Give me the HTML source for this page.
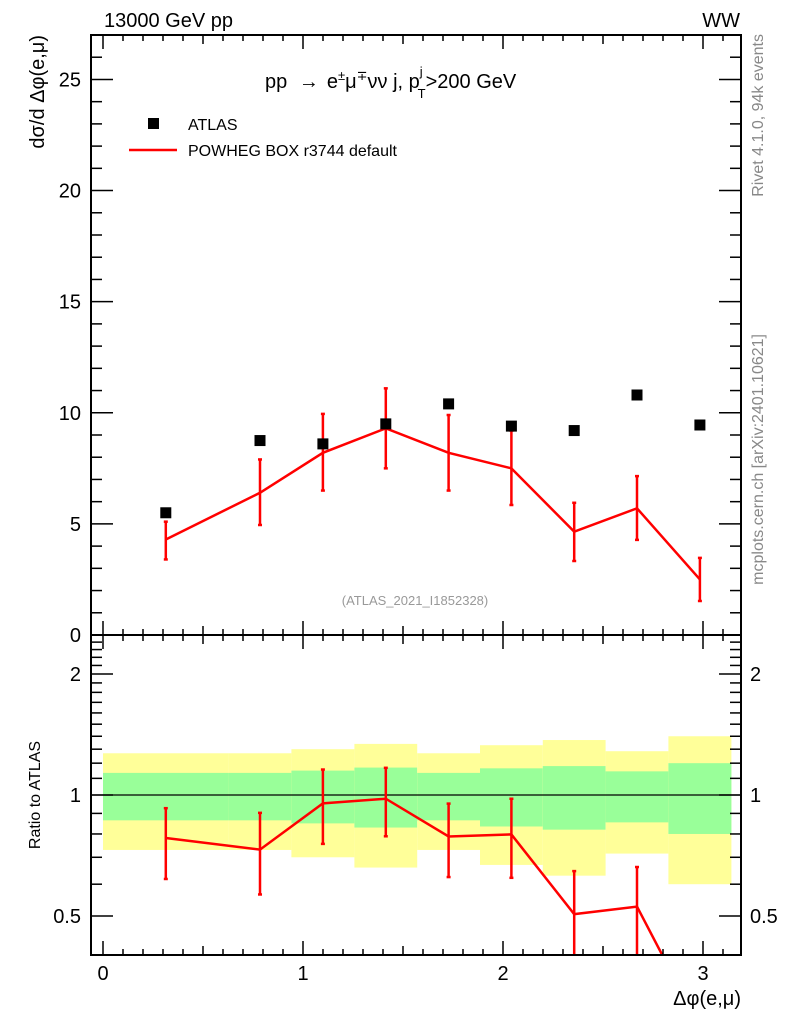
<!DOCTYPE html>
<html><head><meta charset="utf-8">
<style>
html,body{margin:0;padding:0;background:#fff;overflow:hidden;width:786px;height:1024px;position:relative;}
svg{display:block;position:absolute;left:0;top:0;font-family:"Liberation Sans","DejaVu Sans",sans-serif;}
</style></head>
<body>
<svg id="chart" width="786" height="1024" viewBox="0 0 786 1024" xmlns="http://www.w3.org/2000/svg">
<defs>
<clipPath id="clipMain"><rect x="91" y="35" width="650" height="600"/></clipPath>
<clipPath id="clipRatio"><rect x="91" y="635" width="650" height="320"/></clipPath>
</defs>
<g id="bands" clip-path="url(#clipRatio)"></g>
<g id="marks"></g>
<g id="axes"></g>
<text x="104" y="27" font-size="20">13000 GeV pp</text>
<text x="740" y="27" font-size="20" text-anchor="end">WW</text>
<text x="265" y="88" font-size="20">pp <tspan dx="6">→</tspan><tspan dx="8">e</tspan><tspan font-size="13" dy="-8">±</tspan><tspan dy="8">μ</tspan><tspan font-size="13" dy="-8">∓</tspan><tspan dy="8">νν j, p</tspan><tspan font-size="13" dy="-12">j</tspan><tspan font-size="13" dx="-5" dy="22">T</tspan><tspan dy="-10">&gt;200 GeV</tspan></text>
<rect x="148" y="118" width="11" height="11" fill="#000"/>
<text x="188" y="130" font-size="16">ATLAS</text>
<line x1="129" y1="150" x2="177" y2="150" stroke="#f00" stroke-width="2.5"/>
<text x="188" y="156" font-size="16">POWHEG BOX r3744 default</text>
<text x="415" y="605" font-size="13" fill="#999" text-anchor="middle">(ATLAS_2021_I1852328)</text>
<text transform="translate(44,35) rotate(-90)" font-size="20" text-anchor="end">dσ/d Δφ(e,μ)</text>
<text transform="translate(40,795) rotate(-90)" font-size="16" text-anchor="middle">Ratio to ATLAS</text>
<text x="741" y="1005" font-size="20" text-anchor="end">Δφ(e,μ)</text>
<text transform="translate(763,34) rotate(-90)" font-size="16" fill="#888" text-anchor="end">Rivet 4.1.0,  94k events</text>
<text transform="translate(763,334) rotate(-90)" font-size="16" fill="#888" text-anchor="end">mcplots.cern.ch [arXiv:2401.10621]</text>
</svg>
<script>
const binEdges = [0, 0.628, 0.942, 1.257, 1.571, 1.885, 2.199, 2.513, 2.827, 3.142];
const atlasValues = [5.5, 8.75, 8.6, 9.5, 10.4, 9.4, 9.2, 10.8, 9.45];
const mcValues = [4.3, 6.4, 8.2, 9.3, 8.2, 7.5, 4.65, 5.7, 2.5];
const mcErrUp = [5.1, 7.9, 9.95, 11.1, 9.9, 9.2, 5.95, 7.15, 3.47];
const mcErrDown = [3.4, 4.95, 6.5, 7.5, 6.5, 5.85, 3.33, 4.28, 1.53];
const atlasStatRel = [0.135, 0.135, 0.15, 0.17, 0.135, 0.165, 0.18, 0.145, 0.2];
const atlasTotRel = [0.27, 0.27, 0.30, 0.34, 0.27, 0.33, 0.37, 0.285, 0.4];
const xTicks = [0, 1, 2, 3];
const yTicks = [0, 5, 10, 15, 20, 25];
const ratioTicks = [0.5, 1, 2];

const NS = "http://www.w3.org/2000/svg";
const L = 91, R = 741, T = 35, MB = 635, RB = 955;
const xMin = -0.06, xMax = 3.19, yMax = 27;
const rMin = 0.4, rMax = 2.5;
const X = v => L + (v - xMin) / (xMax - xMin) * (R - L);
const Y = v => MB - v / yMax * (MB - T);
const RY = v => RB - (Math.log(v) - Math.log(rMin)) / (Math.log(rMax) - Math.log(rMin)) * (RB - MB);

function mk(tag, attrs, parent) {
  const e = document.createElementNS(NS, tag);
  for (const k in attrs) e.setAttribute(k, attrs[k]);
  parent.appendChild(e);
  return e;
}
const bands = document.getElementById('bands');
const marks = document.getElementById('marks');
const axes = document.getElementById('axes');
const centers = binEdges.slice(0, -1).map((e, i) => (e + binEdges[i + 1]) / 2);

for (let i = 0; i < atlasValues.length; i++) {
  const x0 = X(binEdges[i]), x1 = X(binEdges[i + 1]);
  const y = mk('rect', {x: x0, y: RY(1 + atlasTotRel[i]), width: x1 - x0, height: RY(1 - atlasTotRel[i]) - RY(1 + atlasTotRel[i]), fill: '#ffff99'}, bands);
  
  
  const g = mk('rect', {x: x0, y: RY(1 + atlasStatRel[i]), width: x1 - x0, height: RY(1 - atlasStatRel[i]) - RY(1 + atlasStatRel[i]), fill: '#99ff99'}, bands);
  
  
}
const one = mk('line', {x1: L, x2: R, y1: RY(1), y2: RY(1), stroke: '#000', 'stroke-width': 1.2}, bands);



const mcLine = mk('polyline', {points: centers.map((c, i) => X(c) + ',' + Y(mcValues[i])).join(' '), fill: 'none', stroke: '#f00', 'stroke-width': 2.5, 'clip-path': 'url(#clipMain)'}, marks);


for (let i = 0; i < mcValues.length; i++) {
  const xc = X(centers[i]);
  const eb = mk('g', {stroke: '#f00', 'stroke-width': 2.5}, marks);
  
  
  mk('line', {x1: xc, x2: xc, y1: Y(mcErrUp[i]), y2: Y(mcErrDown[i])}, eb);
  mk('line', {x1: xc - 2, x2: xc + 2, y1: Y(mcErrUp[i]), y2: Y(mcErrUp[i])}, eb);
  mk('line', {x1: xc - 2, x2: xc + 2, y1: Y(mcErrDown[i]), y2: Y(mcErrDown[i])}, eb);
  const p = mk('rect', {x: xc - 5.5, y: Y(atlasValues[i]) - 5.5, width: 11, height: 11, fill: '#000'}, marks);
  
  
}
const rg = mk('g', {'clip-path': 'url(#clipRatio)'}, marks);


// ratio line, clipped geometrically at the bottom of the panel
const rpts = centers.map((c, i) => [X(c), RY(mcValues[i] / atlasValues[i])]);
const clipped = [];
for (let i = 0; i < rpts.length; i++) {
  const [x, y] = rpts[i];
  if (y <= RB) { clipped.push([x, y]); continue; }
  if (i > 0 && rpts[i - 1][1] <= RB) {
    const [px, py] = rpts[i - 1];
    const t = (RB - py) / (y - py);
    clipped.push([px + t * (x - px), RB]);
  }
  break;
}
const rl = mk('polyline', {points: clipped.map(p => p[0] + ',' + p[1]).join(' '), fill: 'none', stroke: '#f00', 'stroke-width': 2.5}, rg);


for (let i = 0; i < mcValues.length; i++) {
  const xc = X(centers[i]);
  const upV = mcErrUp[i] / atlasValues[i], dnV = mcErrDown[i] / atlasValues[i];
  const up = RY(Math.max(upV, rMin)), dn = RY(Math.max(dnV, rMin));
  const eb = mk('g', {stroke: '#f00', 'stroke-width': 2.5}, rg);
  
  
  mk('line', {x1: xc, x2: xc, y1: up, y2: dn}, eb);
  if (upV > rMin) mk('line', {x1: xc - 2, x2: xc + 2, y1: up, y2: up}, eb);
  if (dnV > rMin) mk('line', {x1: xc - 2, x2: xc + 2, y1: dn, y2: dn}, eb);
}

for (const [t, b, nm] of [[T, MB, 'main-frame'], [MB, RB, 'ratio-frame']]) {
  const f = mk('rect', {x: L, y: t, width: R - L, height: b - t, fill: 'none', stroke: '#000', 'stroke-width': 2}, axes);
  
  
}
function tick(x1, y1, x2, y2) { mk('line', {x1, y1, x2, y2, stroke: '#000', 'stroke-width': 1.5}, axes); }
for (let k = 0; k <= 31; k++) {
  const v = k / 10, x = X(v);
  const len = (k % 10 === 0) ? 14 : (k % 5 === 0 ? 9 : 6);
  for (const [t, b] of [[T, MB], [MB, RB]]) { tick(x, t, x, t + len); tick(x, b, x, b - len); }
}
for (const v of xTicks) {
  const t = mk('text', {x: X(v), y: 980, 'font-size': 20, 'text-anchor': 'middle'}, axes);
  t.textContent = v;
  
  
}
for (let v = 0; v <= 27; v++) {
  const y = Y(v), len = v % 5 === 0 ? 22 : 11;
  tick(L, y, L + len, y); tick(R, y, R - len, y);
}
for (const v of yTicks) {
  const t = mk('text', {x: 81, y: Y(v) + 7, 'font-size': 20, 'text-anchor': 'end'}, axes);
  t.textContent = v;
  
  
}
for (let k = 4; k <= 25; k++) {
  const v = k / 10, y = RY(v), len = (k === 5 || k === 10 || k === 20) ? 22 : 11;
  tick(L, y, L + len, y); tick(R, y, R - len, y);
}
for (const v of ratioTicks) {
  const t = mk('text', {x: 81, y: RY(v) + 7, 'font-size': 20, 'text-anchor': 'end'}, axes);
  t.textContent = v;
  
  
  const t2 = mk('text', {x: 750, y: RY(v) + 7, 'font-size': 20}, axes);
  t2.textContent = v;
  
  
}
</script>
</body></html>
